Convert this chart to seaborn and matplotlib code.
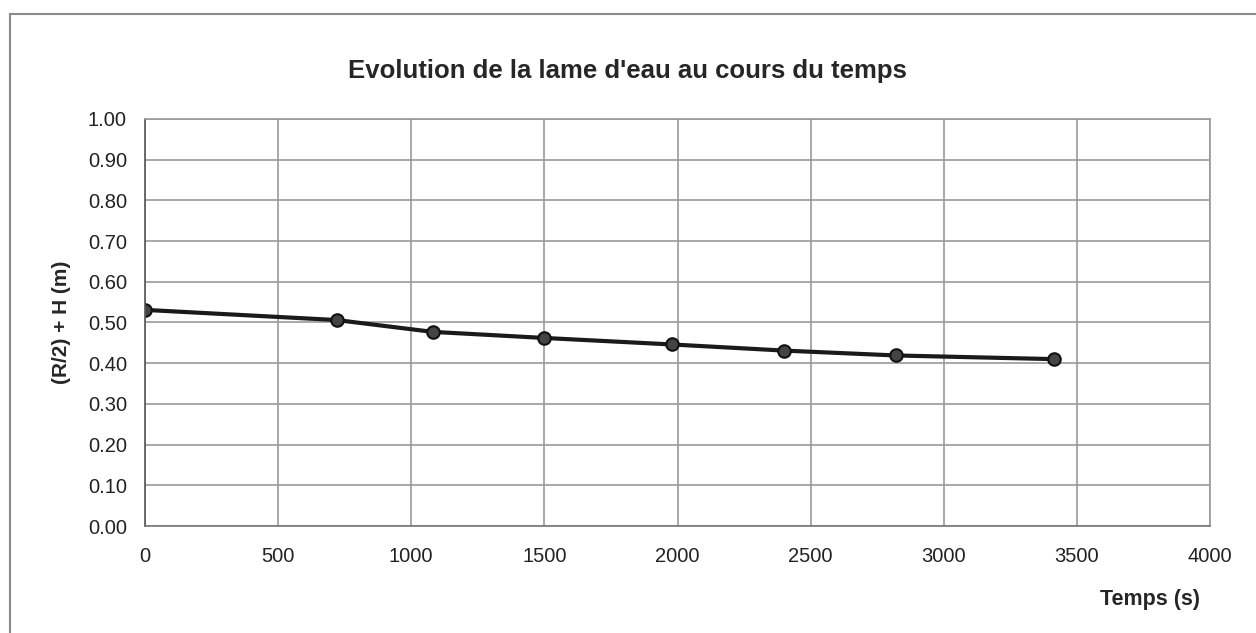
import seaborn as sns
import matplotlib.pyplot as plt
import pandas as pd
from matplotlib.patches import Rectangle

# Readings from the chart
temps = [0, 720, 1080, 1500, 1980, 2400, 2820, 3415]
lame = [0.531, 0.506, 0.477, 0.462, 0.446, 0.431, 0.419, 0.410]
x_ticks = [0, 500, 1000, 1500, 2000, 2500, 3000, 3500, 4000]
y_ticks = [0.0, 0.1, 0.2, 0.3, 0.4, 0.5, 0.6, 0.7, 0.8, 0.9, 1.0]

df = pd.DataFrame({'temps': temps, 'lame': lame})

sns.set_style("white")
plt.rcParams['font.family'] = ['Liberation Sans', 'DejaVu Sans']

fig = plt.figure(figsize=(12.56, 6.33), dpi=100)
ax = fig.add_axes([145 / 1256, 1 - 526 / 633, (1210 - 145) / 1256, (526 - 119) / 633])

# outer chart frame
fig.patches.append(Rectangle((10 / 1256, -0.05), 1.2, 1 - 14 / 633 + 0.05,
                             transform=fig.transFigure, fill=False,
                             edgecolor='#8a8a8a', linewidth=1.5))

sns.lineplot(x='temps', y='lame', data=df, ax=ax, color='#1a1a1a', linewidth=3,
             marker='o', markersize=9, markerfacecolor='#444444',
             markeredgecolor='#111111', markeredgewidth=1.5)

ax.set_xlim(0, 4000)
ax.set_ylim(0, 1.0)
ax.set_xticks(x_ticks)
ax.set_yticks(y_ticks)
ax.set_yticklabels([f"{v:.2f}" for v in y_ticks])
ax.grid(True, color='#9a9a9a', linewidth=1.2)
ax.set_axisbelow(True)
for s in ax.spines.values():
    s.set_color('#9a9a9a')
    s.set_linewidth(1.2)
ax.spines['left'].set_color('#555555')
ax.spines['bottom'].set_color('#777777')
ax.tick_params(axis='both', labelsize=14.5, colors='#222222', length=5, color='#888888')
ax.tick_params(axis='y', pad=8)
ax.tick_params(axis='x', pad=10)

ax.set_xlabel('')
ax.set_ylabel('(R/2) + H (m)', fontsize=15, fontweight='bold', labelpad=12)
fig.text(1150 / 1256, 1 - 599 / 633, 'Temps (s)', fontsize=15.5, fontweight='bold',
         ha='center', va='center')
fig.text(627 / 1256, 1 - 71 / 633, "Evolution de la lame d'eau au cours du temps",
         fontsize=18.5, fontweight='bold', ha='center', va='center')

fig.savefig('out.png', dpi=100)
